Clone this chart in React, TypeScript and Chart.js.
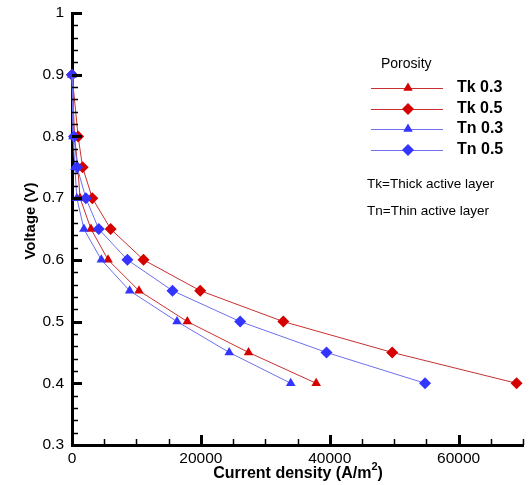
import { useEffect, useRef } from "react";
import { Chart, registerables } from "chart.js";
Chart.register(...registerables);

const voltage = [0.9, 0.8, 0.75, 0.7, 0.65, 0.6, 0.55, 0.5, 0.45, 0.4];
const tk03 = [0, 400, 900, 1250, 2950, 5600, 10400, 17900, 27400, 37900];
const tk05 = [0, 950, 1650, 3150, 6000, 11100, 19900, 32800, 49700, 69000];
const tn03 = [0, 150, 450, 750, 1850, 4550, 8950, 16300, 24400, 33950];
const tn05 = [0, 300, 800, 2150, 4150, 8600, 15600, 26100, 39500, 54800];

const xTicks = [0, 20000, 40000, 60000];
const yTicks = [0.3, 0.4, 0.5, 0.6, 0.7, 0.8, 0.9, 1];
const xMinorStep = 5000;
const yMinorStep = 0.02;

const seriesNames = ["Tk 0.3", "Tk 0.5", "Tn 0.3", "Tn 0.5"];
const notes = ["Tk=Thick active layer", "Tn=Thin active layer"];
const legendTitle = "Porosity";
const xTitleMain = "Current density (A/m";
const xTitleSup = "2";
const xTitleEnd = ")";
const yTitle = "Voltage (V)";

const RED = "#d50000";
const RED_LINE = "#c83030";
const BLUE = "#3434ff";
const BLUE_LINE = "#6e6ef0";

const FONT = "'Liberation Sans', Arial, sans-serif";

function pts(xs: number[]) {
  return xs.map((x, i) => ({ x, y: voltage[i] }));
}

const tickPlugin = {
  id: "innerTicks",
  afterDraw(chart: any) {
    const { ctx, chartArea, scales } = chart;
    const x = scales.x;
    const y = scales.y;
    ctx.save();
    ctx.strokeStyle = "#000";
    const yn = Math.round((y.max - y.min) / yMinorStep);
    for (let i = 0; i <= yn; i++) {
      const v = y.min + i * yMinorStep;
      const major = yTicks.some((t) => Math.abs(t - v) < 1e-6);
      const py = Math.round(y.getPixelForValue(v)) + 0.5;
      ctx.lineWidth = major ? 3 : 1.5;
      ctx.beginPath();
      ctx.moveTo(chartArea.left, py);
      ctx.lineTo(chartArea.left + (major ? 10 : 6), py);
      ctx.stroke();
    }
    const xn = Math.round((x.max - x.min) / xMinorStep);
    for (let i = 0; i <= xn; i++) {
      const v = x.min + i * xMinorStep;
      const major = xTicks.includes(v);
      const px = Math.round(x.getPixelForValue(v)) + 0.5;
      ctx.lineWidth = major ? 3 : 1.5;
      ctx.beginPath();
      ctx.moveTo(px, chartArea.bottom);
      ctx.lineTo(px, chartArea.bottom - (major ? 10 : 6));
      ctx.stroke();
    }
    ctx.fillStyle = "#000";
    ctx.textBaseline = "middle";
    ctx.font = `bold 16px ${FONT}`;
    const wMain = ctx.measureText(xTitleMain).width;
    ctx.font = `bold 11px ${FONT}`;
    const wSup = ctx.measureText(xTitleSup).width;
    ctx.font = `bold 16px ${FONT}`;
    const wEnd = ctx.measureText(xTitleEnd).width;
    const total = wMain + wSup + wEnd;
    const cx = 298;
    const sx = cx - total / 2;
    ctx.textAlign = "left";
    ctx.fillText(xTitleMain, sx, 474);
    ctx.font = `bold 11px ${FONT}`;
    ctx.fillText(xTitleSup, sx + wMain, 467);
    ctx.font = `bold 16px ${FONT}`;
    ctx.fillText(xTitleEnd, sx + wMain + wSup, 474);

    ctx.save();
    ctx.translate(31, 221);
    ctx.rotate(-Math.PI / 2);
    ctx.textAlign = "center";
    ctx.font = `bold 15px ${FONT}`;
    ctx.fillText(yTitle, 0, 0);
    ctx.restore();
    ctx.restore();
  },
};

const legendPlugin = {
  id: "customLegend",
  afterDraw(chart: any) {
    const { ctx } = chart;
    ctx.save();
    ctx.textBaseline = "middle";
    ctx.textAlign = "left";
    ctx.fillStyle = "#000";
    ctx.font = `14px ${FONT}`;
    ctx.fillText(legendTitle, 381, 64);
    const rows = [88, 109, 129, 150];
    seriesNames.forEach((name, i) => {
      const ds = chart.data.datasets.find((d: any) => d.label === name);
      const yy = rows[i];
      ctx.strokeStyle = ds.borderColor;
      ctx.lineWidth = 1;
      ctx.beginPath();
      ctx.moveTo(371, yy + 0.5);
      ctx.lineTo(443, yy + 0.5);
      ctx.stroke();
      ctx.fillStyle = ds.pointBackgroundColor;
      const r = ds.pointRadius;
      ctx.beginPath();
      if (ds.pointStyle === "triangle") {
        ctx.moveTo(408, yy - r);
        ctx.lineTo(408 + r * 0.866, yy + r * 0.5);
        ctx.lineTo(408 - r * 0.866, yy + r * 0.5);
      } else {
        ctx.moveTo(408, yy - r);
        ctx.lineTo(408 + r, yy);
        ctx.lineTo(408, yy + r);
        ctx.lineTo(408 - r, yy);
      }
      ctx.closePath();
      ctx.fill();
      ctx.fillStyle = "#000";
      ctx.font = `bold 16px ${FONT}`;
      ctx.fillText(name, 457, yy);
    });
    ctx.font = `13.5px ${FONT}`;
    ctx.fillText(notes[0], 367, 184);
    ctx.fillText(notes[1], 367, 211);
    ctx.restore();
  },
};

export default function App() {
  const ref = useRef<HTMLCanvasElement>(null);
  useEffect(() => {
    const mk = (label: string, data: number[], color: string, line: string, style: string, order: number) => ({
      label,
      data: pts(data),
      borderColor: line,
      backgroundColor: color,
      pointBackgroundColor: color,
      pointBorderColor: color,
      pointBorderWidth: 0,
      pointStyle: style,
      pointRadius: style === "triangle" ? 5.5 : 6,
      borderWidth: 1,
      tension: 0,
      clip: false as any,
      order,
    });
    const chart = new Chart(ref.current!, {
      type: "line",
      data: {
        datasets: [
          mk(seriesNames[0], tk03, RED, RED_LINE, "triangle", 1),
          mk(seriesNames[1], tk05, RED, RED_LINE, "rectRot", 1),
          mk(seriesNames[2], tn03, BLUE, BLUE_LINE, "triangle", 0),
          mk(seriesNames[3], tn05, BLUE, BLUE_LINE, "rectRot", 0),
        ] as any,
      },
      options: {
        animation: false,
        responsive: true,
        maintainAspectRatio: false,
        layout: { padding: { top: 13, right: 2, left: 0, bottom: 0 } },
        plugins: { legend: { display: false }, tooltip: { enabled: false } },
        scales: {
          x: {
            type: "linear",
            min: 0,
            max: 70000,
            afterBuildTicks: (s: any) => {
              s.ticks = xTicks.map((v) => ({ value: v }));
            },
            afterFit: (s: any) => {
              s.height = 40;
              s.paddingLeft = 0;
              s.paddingRight = 0;
              s.paddingTop = 0;
              s.paddingBottom = 0;
            },
            grid: { display: false, drawTicks: false },
            border: { display: true, color: "#000", width: 3 },
            ticks: {
              padding: 4,
              color: "#000",
              font: { family: FONT, size: 15.5 },
              maxRotation: 0,
              callback: (v: any) => String(v),
            },
            title: { display: false },
          },
          y: {
            type: "linear",
            min: 0.3,
            max: 1,
            afterBuildTicks: (s: any) => {
              s.ticks = yTicks.map((v) => ({ value: v }));
            },
            afterFit: (s: any) => {
              s.width = 72;
              s.paddingLeft = 0;
              s.paddingRight = 0;
              s.paddingTop = 0;
              s.paddingBottom = 0;
            },
            grid: { display: false, drawTicks: false },
            border: { display: true, color: "#000", width: 3 },
            ticks: {
              padding: 8,
              color: "#000",
              font: { family: FONT, size: 15.5 },
              callback: (v: any) => String(v),
            },
            title: { display: false },
          },
        },
      },
      plugins: [tickPlugin, legendPlugin],
    });
    return () => chart.destroy();
  }, []);
  return (
    <div style={{ position: "fixed", left: 0, top: 0, width: 529, height: 485, background: "#fff" }}>
      <canvas ref={ref} />
    </div>
  );
}
